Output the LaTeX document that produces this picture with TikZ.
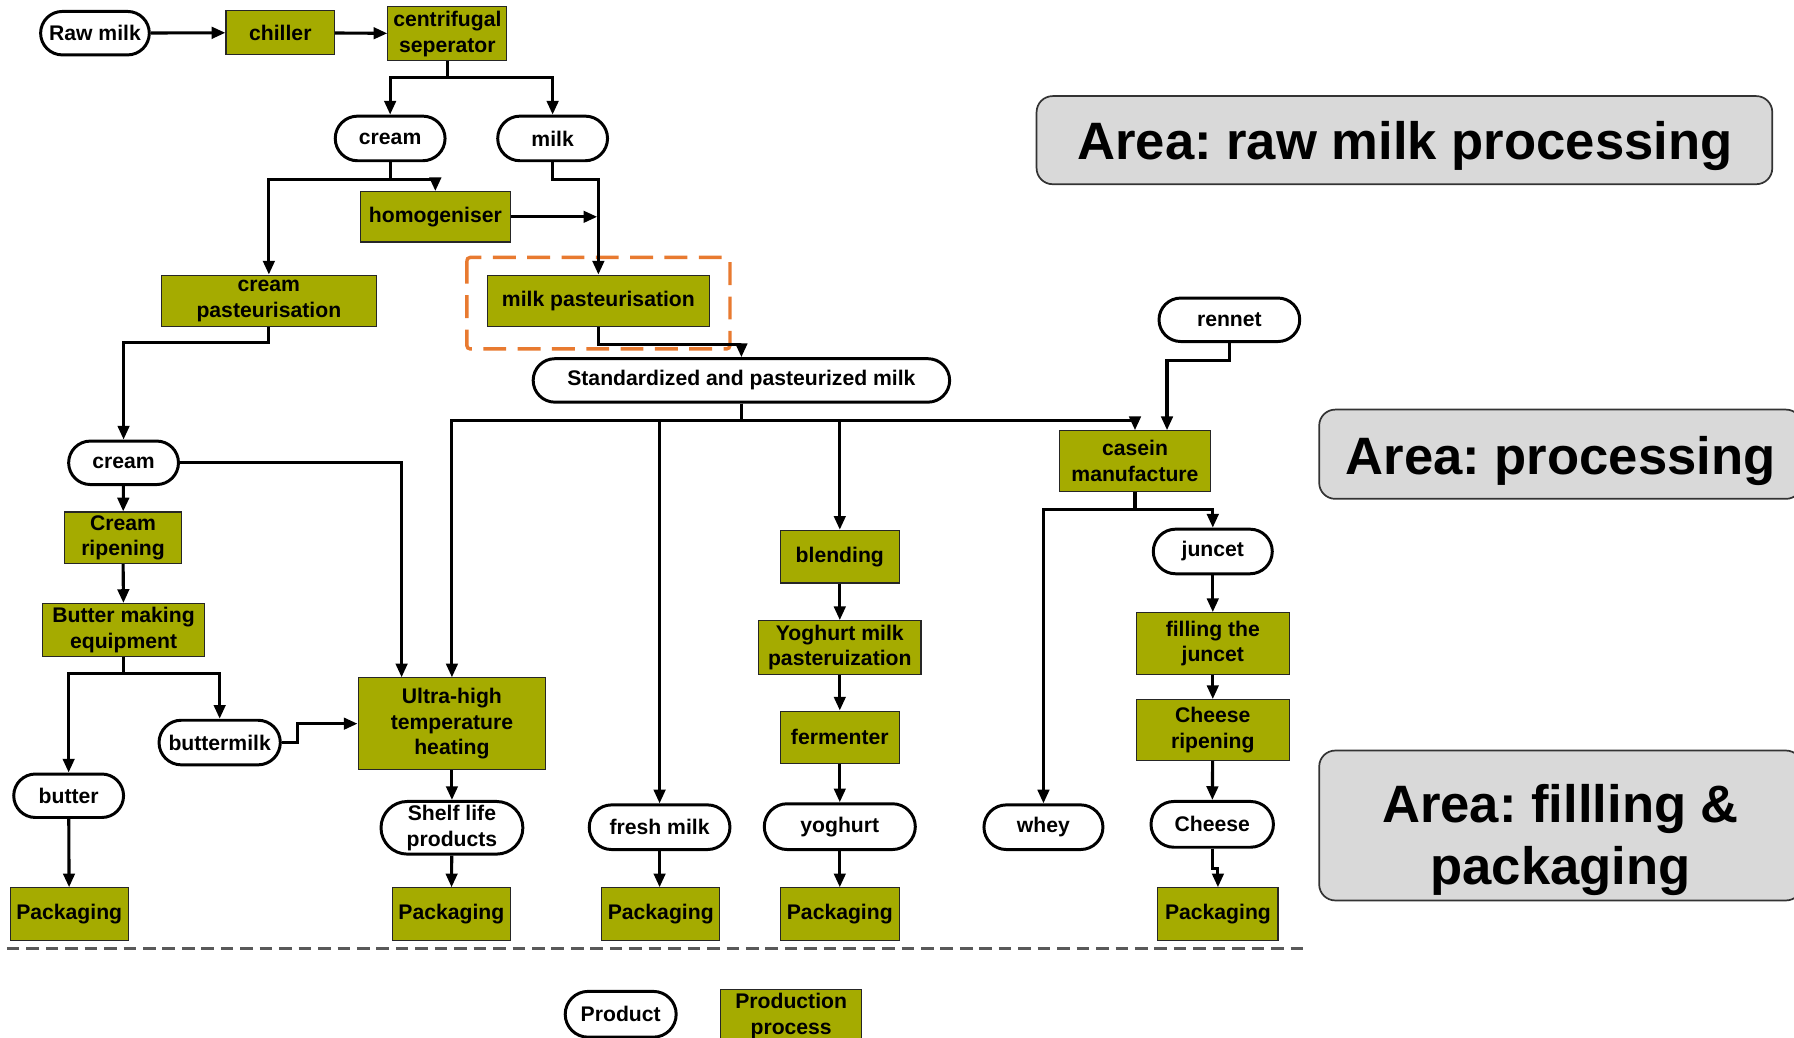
\documentclass[tikz,border=0pt]{standalone}
\usepackage{fontspec}
\setmainfont{Liberation Sans}
\usetikzlibrary{arrows.meta,shapes.misc}
\definecolor{olivebox}{RGB}{165,171,0}
\definecolor{areagray}{RGB}{217,217,217}
\definecolor{dashorange}{RGB}{232,122,48}
\begin{document}
\frenchspacing
\begin{tikzpicture}[x=1pt,y=-1pt,
  base/.style={inner sep=0pt, align=center, font=\bfseries\fontsize{18.5}{22.5}\selectfont},
  proc/.style={base, rectangle, draw=black!85, line width=1pt, fill=olivebox},
  pill/.style={base, rounded rectangle, draw=black, line width=2.6pt, fill=white},
  arr/.style={line width=2.7pt, -{Triangle[length=12pt,width=10pt]}},
  area/.style={rectangle, rounded corners=14pt, draw=black!80, line width=1.5pt, fill=areagray, inner sep=0pt},
  areatext/.style={inner sep=0pt, align=center, font=\bfseries\fontsize{46}{54}\selectfont}]
\useasboundingbox (0,0) rectangle (1568,907);
\clip (0,0) rectangle (1568,907);

% area boxes
\node[area, minimum width=643pt, minimum height=77pt] (a1) at (1227.5,122.5) {};
\node[areatext] (a1t) at (1228,128) {Area: raw milk processing};
\node[area, minimum width=422pt, minimum height=78pt] (a2) at (1364,397) {};
\node[areatext] (a2t) at (1364,403) {Area: processing};
\node[area, minimum width=422pt, minimum height=131pt] (a3) at (1364,721.5) {};
\node[areatext] (a3t) at (1364,734) {Area: fillling \&\\packaging};

% nodes
\node[pill, minimum width=95pt, minimum height=38pt] (raw) at (83,29) {Raw milk};
\node[proc, minimum width=95pt, minimum height=39pt] (chill) at (245,28.5) {chiller};
\node[proc, minimum width=104pt, minimum height=47pt] (sep) at (391,29.5) {centrifugal\\seperator};
\node[pill, minimum width=96pt, minimum height=39pt] (cream1) at (341,121) {cream};
\node[pill, minimum width=96pt, minimum height=39pt] (milk) at (483,121) {milk};
\node[proc, minimum width=131pt, minimum height=44pt] (homog) at (380.5,189.5) {homogeniser};
\node[proc, minimum width=188pt, minimum height=45pt] (cpast) at (235,263) {cream\\pasteurisation};
\node[proc, minimum width=194pt, minimum height=45pt] (mpast) at (523,263) {milk pasteurisation};
\node[pill, minimum width=364pt, minimum height=38pt] (std) at (648,332.5) {Standardized and pasteurized milk};
\node[pill, minimum width=123pt, minimum height=38pt] (rennet) at (1074.5,279.5) {rennet};
\node[proc, minimum width=132pt, minimum height=53pt] (casein) at (992,403) {casein\\manufacture};
\node[pill, minimum width=96pt, minimum height=38pt] (cream2) at (108,404.5) {cream};
\node[proc, minimum width=103pt, minimum height=45pt] (crip) at (107.5,470) {Cream\\ripening};
\node[proc, minimum width=142pt, minimum height=46pt] (bme) at (108,550.5) {Butter making\\equipment};
\node[pill, minimum width=106pt, minimum height=39pt] (bm) at (192,649) {buttermilk};
\node[pill, minimum width=96pt, minimum height=38pt] (butter) at (60,695.5) {butter};
\node[proc, minimum width=103pt, minimum height=46pt] (pack1) at (60.5,799) {Packaging};
\node[proc, minimum width=164pt, minimum height=80pt] (uht) at (395,632.5) {Ultra-high\\temperature\\heating};
\node[pill, minimum width=124pt, minimum height=46pt] (shelf) at (395,723.5) {Shelf life\\products};
\node[proc, minimum width=103pt, minimum height=46pt] (pack2) at (394.5,799) {Packaging};
\node[pill, minimum width=123pt, minimum height=39pt] (fresh) at (576.5,723) {fresh milk};
\node[proc, minimum width=103pt, minimum height=46pt] (pack3) at (577.5,799) {Packaging};
\node[proc, minimum width=104pt, minimum height=46pt] (blend) at (734,486.5) {blending};
\node[proc, minimum width=142pt, minimum height=47pt] (ymp) at (734,566) {Yoghurt milk\\pasteruization};
\node[proc, minimum width=104pt, minimum height=46pt] (ferm) at (734,644.5) {fermenter};
\node[pill, minimum width=132pt, minimum height=40pt] (yog) at (734,722.5) {yoghurt};
\node[proc, minimum width=104pt, minimum height=46pt] (pack4) at (734,799) {Packaging};
\node[pill, minimum width=104pt, minimum height=39pt] (whey) at (912,723) {whey};
\node[pill, minimum width=104pt, minimum height=39pt] (juncet) at (1060,482) {juncet};
\node[proc, minimum width=134pt, minimum height=54pt] (fill) at (1060,562.5) {filling the\\juncet};
\node[proc, minimum width=134pt, minimum height=53pt] (crip2) at (1060,638) {Cheese\\ripening};
\node[pill, minimum width=107pt, minimum height=40pt] (cheese) at (1059.5,720.5) {Cheese};
\node[proc, minimum width=105pt, minimum height=46pt] (pack5) at (1064.5,799) {Packaging};
\node[pill, minimum width=97pt, minimum height=40pt] (product) at (542.5,886.5) {Product};
\node[proc, minimum width=123pt, minimum height=46pt] (prodproc) at (691.5,888) {Production\\process};

% orange dashed highlight
\draw[dashorange, line width=3pt, dash pattern=on 20pt off 10pt, rounded corners=3pt] (408,225) rectangle (638,305);
% legend separator
\draw[black!65, line width=2pt, dash pattern=on 11pt off 6pt] (6,829) -- (1145,829);

% connectors
\draw[arr] (raw) -- (chill);
\draw[arr] (chill) -- (sep);
\draw[arr] (sep.south) -- ++(0,14) -| (cream1.north);
\draw[arr] (sep.south) -- ++(0,14) -| (milk.north);
\draw[arr] (cream1.south) -- ++(0,15) -| (homog.north);
\draw[arr] (cream1.south) -- ++(0,15) -| (cpast.north);
\draw[arr] (milk.south) -- ++(0,15) -| (mpast.north);
\coordinate (mj) at (522,189.5);
\draw[arr] (homog.east) -- (mj);
\draw[arr] (mpast.south) -- ++(0,15) -| (std.north);
\draw[arr] (std.south) -- ++(0,15) -| (uht.north);
\draw[arr] (std.south) -- ++(0,15) -| (fresh.north);
\draw[arr] (std.south) -- ++(0,15) -| (blend.north);
\draw[arr] (std.south) -- ++(0,15) -| (casein.north);
\draw[arr] (rennet.south) -- ++(0,15) -| ([xshift=28pt]casein.north);
\draw[arr] (casein.south) -- ++(0,15) -| (whey.north);
\draw[arr] (casein.south) -- ++(0,15) -| (juncet.north);
\draw[arr] (cpast.south) -- ++(0,13) -| (cream2.north);
\draw[arr] (cream2.east) -| ([xshift=-44pt]uht.north);
\draw[arr] (cream2) -- (crip);
\draw[arr] (crip) -- (bme);
\draw[arr] (bme.south) -- ++(0,15) -| (butter.north);
\draw[arr] (bme.south) -- ++(0,15) -| (bm.north);
\draw[arr] (bm.east) -- ++(14,0) |- (uht.west);
\draw[arr] (butter) -- (pack1);
\draw[arr] (uht) -- (shelf);
\draw[arr] (shelf) -- (pack2);
\draw[arr] (fresh.south) -- (fresh.south |- pack3.north);
\draw[arr] (blend) -- (ymp);
\draw[arr] (ymp) -- (ferm);
\draw[arr] (ferm) -- (yog);
\draw[arr] (yog) -- (pack4);
\draw[arr] (juncet) -- (fill);
\draw[arr] (fill) -- (crip2);
\draw[arr] (crip2) -- (cheese);
\draw[arr] (cheese.south) -- ++(0,17) -| (pack5.north);
\end{tikzpicture}
\end{document}
